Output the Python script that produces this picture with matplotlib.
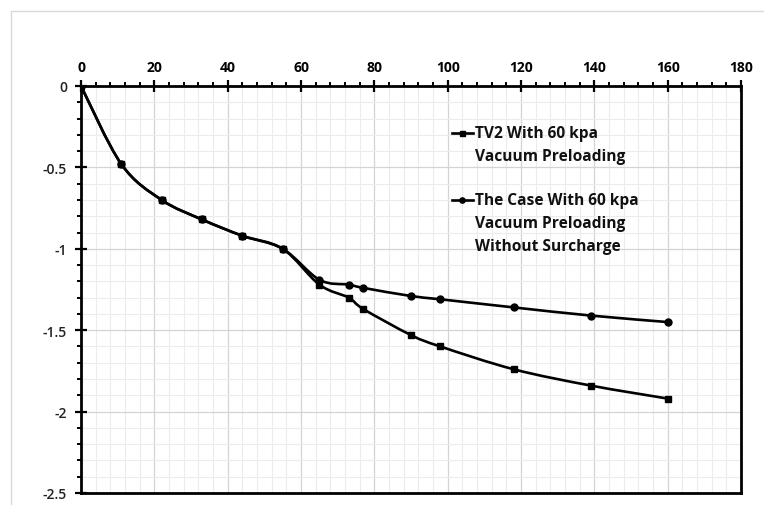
"""Settlement vs. time for two vacuum preloading cases."""
import matplotlib
matplotlib.use("Agg")
import matplotlib.pyplot as plt
import numpy as np
from matplotlib.lines import Line2D
from matplotlib.patches import PathPatch, Rectangle
from matplotlib.path import Path
from matplotlib.ticker import MultipleLocator

plt.rcParams["font.family"] = ["Open Sans", "DejaVu Sans"]

# time (days) and settlement (m)
days = [0, 11, 22, 33, 44, 55, 65, 73, 77, 90, 98, 118, 139, 160]
tv2_settlement = [0, -0.48, -0.70, -0.82, -0.92, -1.00, -1.22, -1.30,
                  -1.37, -1.53, -1.60, -1.74, -1.84, -1.92]
case_settlement = [0, -0.48, -0.70, -0.82, -0.92, -1.00, -1.19, -1.22,
                   -1.24, -1.29, -1.31, -1.36, -1.41, -1.45]

legend_labels = [
    ["TV2 With 60 kpa", "Vacuum Preloading"],
    ["The Case With 60 kpa", "Vacuum Preloading", "Without Surcharge"],
]


def smooth_path(x, y):
    """Cubic Bezier through the points, spreadsheet-style smoothed line."""
    p = np.column_stack([x, y]).astype(float)
    n = len(p)
    verts = [p[0]]
    codes = [Path.MOVETO]
    for i in range(n - 1):
        prev = p[i - 1] if i > 0 else p[i]
        nxt = p[i + 2] if i + 2 < n else p[i + 1]
        c1 = p[i] + (p[i + 1] - prev) / 6
        c2 = p[i + 1] - (nxt - p[i]) / 6
        verts += [c1, c2, p[i + 1]]
        codes += [Path.CURVE4] * 3
    return Path(verts, codes)


W, H = 764, 506
fig = plt.figure(figsize=(W / 100, H / 100), dpi=100)
ax = fig.add_axes([81 / W, 12 / H, 660 / W, 407 / H])

# thin outer chart-area frame
fig.patches.append(Rectangle((11 / W, -0.02), 1.0, (H - 12) / H + 0.02,
                             transform=fig.transFigure, fill=False,
                             edgecolor="#d9d9d9", lw=1.0))

lw = 1.9
for y, marker, ms in [(tv2_settlement, "s", 4.6), (case_settlement, "o", 5.0)]:
    ax.add_patch(PathPatch(smooth_path(days, y), fill=False,
                           edgecolor="black", lw=lw, capstyle="round",
                           joinstyle="round", zorder=3))
    ax.plot(days, y, ls="none", marker=marker, ms=ms, color="black", zorder=4)

ax.set_xlim(0, 180)
ax.set_ylim(-2.5, 0)
ax.xaxis.set_major_locator(MultipleLocator(20))
ax.xaxis.set_minor_locator(MultipleLocator(4))
ax.yaxis.set_major_locator(MultipleLocator(0.5))
ax.yaxis.set_minor_locator(MultipleLocator(0.1))
ax.xaxis.tick_top()
ax.set_yticks([0, -0.5, -1, -1.5, -2, -2.5])
ax.set_yticklabels(["0", "-0.5", "-1", "-1.5", "-2", "-2.5"])

ax.tick_params(axis="both", which="major", direction="inout", length=8,
               width=1.6, colors="black", labelsize=10)
ax.tick_params(axis="both", which="minor", direction="out", length=3,
               width=1.4, colors="black")
ax.tick_params(axis="x", pad=5)
ax.tick_params(axis="y", pad=6)
for lab in ax.get_xticklabels():
    lab.set_fontweight("bold")
for lab in ax.get_yticklabels():
    lab.set_fontweight("semibold")
    lab.set_color("#222222")

ax.grid(which="major", color="#d4d4d4", lw=0.9)
ax.grid(which="minor", color="#ececec", lw=0.8)
ax.set_axisbelow(True)
for s in ax.spines.values():
    s.set_linewidth(2.0)
    s.set_color("black")

# legend drawn inside the plot area, one text per line
entry_top = [0.885, 0.720]
line_step = 0.0565
for (marker, ms), lines, y0 in zip([("s", 3.6), ("o", 3.8)], legend_labels, entry_top):
    ax.add_line(Line2D([0.562, 0.594], [y0, y0], transform=ax.transAxes,
                       color="black", lw=lw, marker=None, zorder=5))
    ax.add_line(Line2D([0.578], [y0], transform=ax.transAxes, color="black",
                       marker=marker, ms=ms, zorder=5))
    for k, txt in enumerate(lines):
        ax.text(0.597, y0 - k * line_step, txt, transform=ax.transAxes,
                ha="left", va="center", fontsize=11.2, fontweight="bold",
                color="#111111")

fig.savefig("out.png", dpi=100)
